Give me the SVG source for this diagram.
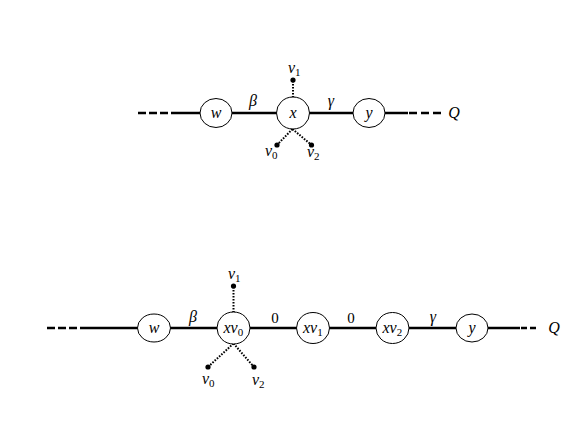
<svg xmlns="http://www.w3.org/2000/svg" width="581" height="436" viewBox="0 0 581 436">
<style>
.bg{fill:#fff}
.edge{stroke:#000;stroke-width:2.5;fill:none}
.dash{stroke:#000;stroke-width:2.5;fill:none;stroke-dasharray:8 3}
.dot{stroke:#000;stroke-width:2;fill:none;stroke-dasharray:1.6 1.4}
.end{fill:#000}
.node{fill:#fff;stroke:#000;stroke-width:1}
.t{font-family:"Liberation Serif","Times New Roman",serif;font-style:italic;font-size:16px;fill:#000}
.s{font-style:normal;font-size:11px}
.n{font-family:"Liberation Serif","Times New Roman",serif;font-size:15px;fill:#000}
</style>
<rect class="bg" x="0" y="0" width="581" height="436"/>
<g id="connectors">
  <path class="dash" d="M138 113H178"/>
  <path class="edge" d="M178 113H200"/>
  <path class="edge" d="M232 113H277"/>
  <path class="edge" d="M309 113H353"/>
  <path class="edge" d="M385 113H408"/>
  <path class="dash" d="M409 113H441" style="stroke-dasharray:8 4"/>
  <path class="dot" d="M293 81V97"/>
  <path class="dot" d="M292.5 129L277 145"/>
  <path class="dot" d="M292.5 129L311.5 145"/>
  <circle class="end" cx="293" cy="80" r="2.6"/>
  <circle class="end" cx="277" cy="145" r="2.6"/>
  <circle class="end" cx="311.5" cy="145" r="2.6"/>
  <circle class="end" cx="293" cy="97.5" r="1.6"/>
  <circle class="end" cx="292.5" cy="129" r="1.6"/>
  <path class="dash" d="M47 328H87"/>
  <path class="edge" d="M87 328H138"/>
  <path class="edge" d="M170 328H217"/>
  <path class="edge" d="M250 328H297"/>
  <path class="edge" d="M329 328H376"/>
  <path class="edge" d="M409 328H456"/>
  <path class="edge" d="M488 328H520"/>
  <path class="dash" d="M521 328H537" style="stroke-dasharray:6 3"/>
  <path class="dot" d="M233.5 287V312"/>
  <path class="dot" d="M233.5 343.5L208 367"/>
  <path class="dot" d="M233.5 343.5L254 367"/>
  <circle class="end" cx="233.5" cy="286" r="2.6"/>
  <circle class="end" cx="208" cy="367" r="2.6"/>
  <circle class="end" cx="254" cy="367" r="2.6"/>
  <circle class="end" cx="233.5" cy="312.5" r="1.6"/>
  <circle class="end" cx="233.5" cy="343.5" r="1.6"/>
</g>
<g id="edge-labels">
  <text class="t" x="253" y="106" text-anchor="middle">β</text>
  <text class="t" x="331" y="106" text-anchor="middle">γ</text>
  <text class="t" x="454" y="118" text-anchor="middle">Q</text>
  <text class="t" x="193" y="322" text-anchor="middle">β</text>
  <text class="n" x="275" y="323" text-anchor="middle">0</text>
  <text class="n" x="351" y="323" text-anchor="middle">0</text>
  <text class="t" x="433" y="322" text-anchor="middle">γ</text>
  <text class="t" x="554" y="333" text-anchor="middle">Q</text>
</g>
<g id="top-w"><ellipse class="node" cx="216" cy="113" rx="16" ry="14.5"/><text class="t" x="216" y="118" text-anchor="middle">w</text></g>
<g id="top-x"><ellipse class="node" cx="293" cy="113" rx="16.5" ry="16"/><text class="t" x="293" y="118" text-anchor="middle">x</text></g>
<g id="top-y"><ellipse class="node" cx="369" cy="113" rx="16" ry="14.5"/><text class="t" x="369" y="118" text-anchor="middle">y</text></g>
<g id="top-v1"><text class="t" x="288" y="73">v<tspan class="s" dy="3">1</tspan></text></g>
<g id="top-v0"><text class="t" x="265" y="156">v<tspan class="s" dy="3">0</tspan></text></g>
<g id="top-v2"><text class="t" x="307" y="157">v<tspan class="s" dy="3">2</tspan></text></g>
<g id="bot-w"><ellipse class="node" cx="154" cy="328" rx="16.5" ry="14"/><text class="t" x="154" y="333" text-anchor="middle">w</text></g>
<g id="bot-xv0"><ellipse class="node" cx="233.5" cy="328" rx="16.5" ry="16"/><text class="t" x="223.5" y="333">xv<tspan class="s" dy="3">0</tspan></text></g>
<g id="bot-xv1"><ellipse class="node" cx="313" cy="328" rx="16.5" ry="15.5"/><text class="t" x="303" y="333">xv<tspan class="s" dy="3">1</tspan></text></g>
<g id="bot-xv2"><ellipse class="node" cx="392.5" cy="328" rx="16.5" ry="15.5"/><text class="t" x="382.5" y="333">xv<tspan class="s" dy="3">2</tspan></text></g>
<g id="bot-y"><ellipse class="node" cx="472" cy="328" rx="16" ry="14"/><text class="t" x="472" y="333" text-anchor="middle">y</text></g>
<g id="bot-v1"><text class="t" x="228" y="279">v<tspan class="s" dy="3">1</tspan></text></g>
<g id="bot-v0"><text class="t" x="202" y="384">v<tspan class="s" dy="3">0</tspan></text></g>
<g id="bot-v2"><text class="t" x="252" y="385">v<tspan class="s" dy="3">2</tspan></text></g>
</svg>
